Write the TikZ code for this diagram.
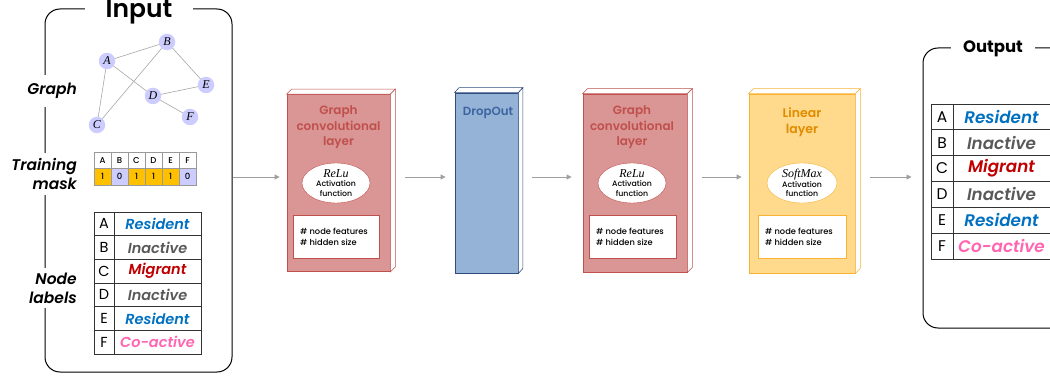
\documentclass[tikz,border=0pt]{standalone}
\usepackage{fontspec}
\setmainfont{Poppins}
\newfontfamily\psemi{Poppins SemiBold}[ItalicFont={Poppins SemiBold Italic}]
\newfontfamily\pmed{Poppins Medium}[ItalicFont={Poppins Medium Italic}]
\newfontfamily\tms{Liberation Serif}
\usetikzlibrary{arrows.meta,shapes.geometric,calc}
\definecolor{gclF}{HTML}{DA9694}
\definecolor{gclB}{HTML}{C0504D}
\definecolor{gclT}{HTML}{C0504D}
\definecolor{dropF}{HTML}{95B3D7}
\definecolor{dropB}{HTML}{2F4C80}
\definecolor{dropT}{HTML}{3C64A0}
\definecolor{linF}{HTML}{FFD98C}
\definecolor{linB}{HTML}{F9B233}
\definecolor{linT}{HTML}{E08C00}
\definecolor{lav}{HTML}{CCCCFF}
\definecolor{mord}{HTML}{FFC000}
\definecolor{cres}{HTML}{0070C0}
\definecolor{cina}{HTML}{595959}
\definecolor{cmig}{HTML}{C00000}
\definecolor{ccoa}{HTML}{FF66B2}
\tikzset{
  frame/.style={draw=black, line width=1pt, rounded corners=15pt, minimum width=#1},
  sidelab/.style={fill=white, anchor=east, align=right, font=\fontsize{15.5}{19}\selectfont\psemi\itshape, inner xsep=1pt},
  gnode/.style={circle, fill=lav, inner sep=0pt, minimum size=16.5pt, font=\fontsize{12}{12}\selectfont\tms\itshape},
  gedge/.style={draw=gray!70, line width=0.6pt},
  mcell/.style={draw=gray!80, line width=0.5pt, minimum width=17pt, minimum height=16.5pt, inner sep=0pt, font=\fontsize{8.5}{9}\selectfont\pmed},
  tcell/.style={draw=black!80, line width=0.9pt, inner sep=0pt},
  lay/.style={minimum width=#1, inner sep=0pt},
  arr/.style={draw=gray!75, line width=0.8pt, -{Triangle[length=5pt,width=5pt]}},
  act/.style={ellipse, draw, fill=white, minimum width=68pt, minimum height=40pt, inner sep=0pt, align=center, font=\fontsize{7.8}{9.5}\selectfont\pmed},
  info/.style={draw, fill=white, minimum width=86pt, minimum height=43pt, inner sep=0pt},
  infotxt/.style={anchor=west, align=left, inner sep=0pt, font=\fontsize{8.3}{11}\selectfont\pmed},
  ltitle/.style={align=center, font=\fontsize{12}{15.5}\selectfont\psemi}
}
\newcommand{\actname}[1]{{\fontsize{12}{12}\selectfont\tms\itshape #1}}
\begin{document}
\begin{tikzpicture}[x=1pt,y=-1pt]
\useasboundingbox (0,0) rectangle (1050,377);
\clip (0,0) rectangle (1050,377);

% ---------- Input frame ----------
\node[frame=187pt, minimum height=363pt] (inbox) at (138.5,190.5) {};
\node[fill=white, inner xsep=21pt, inner ysep=0pt, anchor=base, font=\fontsize{25}{25}\selectfont\psemi] (intitle) at (139,18) {Input};
\node[sidelab, inner ysep=8pt] (lgraph) at (78,91) {Graph};
\node[sidelab, inner ysep=5pt] (lmask) at (78,174) {Training\\mask};
\node[sidelab, inner ysep=5pt] (llab) at (78,288) {Node\\labels};

% ---------- Graph ----------
\coordinate (pA) at (107,61);
\coordinate (pB) at (167,42);
\coordinate (pC) at (97,125);
\coordinate (pD) at (153,96);
\coordinate (pE) at (206,85);
\coordinate (pF) at (190,117);
\draw[gedge] (pA) -- (pB);
\draw[gedge] (pA) -- (pC);
\draw[gedge] (pA) -- (pD);
\draw[gedge] (pB) -- (pC);
\draw[gedge] (pB) -- (pE);
\draw[gedge] (pD) -- (pE);
\draw[gedge] (pD) -- (pF);
\foreach \n in {A,B,C,D,E,F}{\node[gnode] (\n) at (p\n) {\n};}

% ---------- Training mask ----------
\foreach \l/\v/\c [count=\i from 0] in {A/1/mord,B/0/lav,C/1/mord,D/1/mord,E/1/mord,F/0/lav}{
  \node[mcell, fill=white] (mh\i) at ({102.5+\i*17},160.25) {\l};
  \node[mcell, fill=\c] (mv\i) at ({102.5+\i*17},176.75) {\v};
}

% ---------- Node labels (input) ----------
\foreach \l/\t/\c [count=\i from 0] in {A/Resident/cres,B/Inactive/cina,C/Migrant/cmig,D/Inactive/cina,E/Resident/cres,F/Co-active/ccoa}{
  \node[tcell, minimum width=20pt, minimum height=23.67pt, font=\fontsize{14.5}{14}\selectfont] (il\i) at (104,{223.83+\i*23.67}) {\l};
  \node[tcell, minimum width=87pt, minimum height=23.67pt, text=\c, font=\fontsize{14.5}{14}\selectfont\psemi\itshape] (it\i) at (157.5,{223.83+\i*23.67}) {\t};
}

% ---------- Layer boxes ----------
% GCL 1
\node[lay=103pt, minimum height=177pt, fill=gclF, draw=gclB, line width=0.8pt] (g1) at (338.5,183) {};
\filldraw[fill=white, draw=gclB, line width=0.6pt] (g1.north west) -- ++(5,-5) -- ($(g1.north east)+(5,-5)$) -- (g1.north east) -- cycle;
\filldraw[fill=white, draw=gclB, line width=0.6pt] (g1.north east) -- ++(5,-5) -- ($(g1.south east)+(5,-5)$) -- (g1.south east) -- cycle;
\node[ltitle, text=gclT] (g1t) at (338.5,127.5) {Graph\\convolutional\\layer};
\node[act, draw=gclB] (g1a) at (336,183) {\actname{ReLu}\\Activation\\function};
\node[info, draw=gclB] (g1i) at (336,236.5) {};
\node[infotxt] (g1x) at (300,236.5) {\# node features\\\# hidden size};

% DropOut
\node[lay=63pt, minimum height=180pt, fill=dropF, draw=dropB, line width=0.8pt] (dr) at (486.5,183) {};
\filldraw[fill=white, draw=dropB, line width=0.6pt] (dr.north west) -- ++(4.5,-5) -- ($(dr.north east)+(4.5,-5)$) -- (dr.north east) -- cycle;
\filldraw[fill=white, draw=dropB, line width=0.6pt] (dr.north east) -- ++(4.5,-5) -- ($(dr.south east)+(4.5,-5)$) -- (dr.south east) -- cycle;
\node[text=dropT, font=\fontsize{11.8}{12}\selectfont\psemi] (drt) at (488,113) {DropOut};

% GCL 2
\node[lay=104pt, minimum height=178pt, fill=gclF, draw=gclB, line width=0.8pt] (g2) at (635,183) {};
\filldraw[fill=white, draw=gclB, line width=0.6pt] (g2.north west) -- ++(5,-5) -- ($(g2.north east)+(5,-5)$) -- (g2.north east) -- cycle;
\filldraw[fill=white, draw=gclB, line width=0.6pt] (g2.north east) -- ++(5,-5) -- ($(g2.south east)+(5,-5)$) -- (g2.south east) -- cycle;
\node[ltitle, text=gclT] (g2t) at (632,127.5) {Graph\\convolutional\\layer};
\node[act, draw=gclB] (g2a) at (632,183) {\actname{ReLu}\\Activation\\function};
\node[info, draw=gclB, minimum width=87pt] (g2i) at (632.5,236.5) {};
\node[infotxt] (g2x) at (596,236.5) {\# node features\\\# hidden size};

% Linear
\node[lay=106pt, minimum height=179pt, fill=linF, draw=linB, line width=0.8pt] (ln) at (802,183.5) {};
\filldraw[fill=white, draw=linB, line width=0.6pt] (ln.north west) -- ++(5,-5) -- ($(ln.north east)+(5,-5)$) -- (ln.north east) -- cycle;
\filldraw[fill=white, draw=linB, line width=0.6pt] (ln.north east) -- ++(5,-5) -- ($(ln.south east)+(5,-5)$) -- (ln.south east) -- cycle;
\node[ltitle, text=linT, font=\fontsize{12.5}{15.5}\selectfont\psemi] (lnt) at (802,122) {Linear\\layer};
\node[act, draw=linB, minimum width=70pt] (lna) at (802,183) {\actname{SoftMax}\\Activation\\function};
\node[info, draw=linB, minimum width=88pt] (lni) at (802,236.5) {};
\node[infotxt] (lnx) at (765,236.5) {\# node features\\\# hidden size};

% ---------- Output frame ----------
\node[frame=150pt, minimum height=280pt] (outbox) at (998,188) {};
\node[fill=white, inner xsep=12pt, inner ysep=0pt, anchor=base, font=\fontsize{16.5}{16}\selectfont\bfseries] (outtitle) at (993,53) {Output};
\foreach \l/\t/\c [count=\i from 0] in {A/Resident/cres,B/Inactive/cina,C/Migrant/cmig,D/Inactive/cina,E/Resident/cres,F/Co-active/ccoa}{
  \node[tcell, minimum width=22pt, minimum height=25.83pt, font=\fontsize{15.5}{15}\selectfont] (ol\i) at (942,{116.9+\i*25.83}) {\l};
  \node[tcell, minimum width=99pt, minimum height=25.83pt] (ot\i) at (1002.5,{116.9+\i*25.83}) {};
  \node[text=\c, font=\fontsize{16.8}{15}\selectfont\psemi\itshape] (otx\i) at (1001.5,{116.9+\i*25.83}) {\t};
}

% ---------- Arrows ----------
\coordinate (ay) at (0,177);
\draw[arr] (inbox.east |- ay) -- ([xshift=-7pt]g1.west |- ay);
\draw[arr] ([xshift=15pt]g1.east |- ay) -- ([xshift=-9pt]dr.west |- ay);
\draw[arr] ([xshift=14pt]dr.east |- ay) -- ([xshift=-11pt]g2.west |- ay);
\draw[arr] ([xshift=15pt]g2.east |- ay) -- ([xshift=-7pt]ln.west |- ay);
\draw[arr] ([xshift=15pt]ln.east |- ay) -- ([xshift=-11pt]outbox.west |- ay);
\end{tikzpicture}
\end{document}
